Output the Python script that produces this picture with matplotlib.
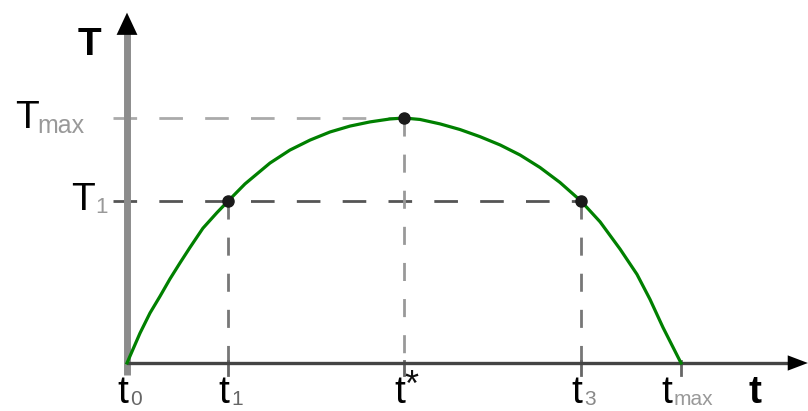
"""
Esboco: curva T(t) com maximo em t*, niveis T1 e Tmax marcados.
Gera out.png (808x411).
"""

import matplotlib
matplotlib.use("Agg")
import matplotlib.pyplot as plt

plt.rcParams["font.family"] = ["Liberation Sans", "DejaVu Sans"]
plt.rcParams["lines.scale_dashes"] = False

# ---------------------------------------------------------------------------
# dados (t* = 1, Tmax = 1)
# ---------------------------------------------------------------------------
curva_t = [0.0, 0.047, 0.083, 0.119, 0.155, 0.191, 0.227, 0.274, 0.325, 0.365,
           0.426, 0.516, 0.588, 0.661, 0.733, 0.805, 0.877, 0.949, 1.0, 1.058,
           1.130, 1.202, 1.274, 1.347, 1.419, 1.491, 1.563, 1.639, 1.708,
           1.780, 1.841, 1.888, 1.935, 2.0]
curva_T = [0.0, 0.122, 0.204, 0.272, 0.343, 0.408, 0.471, 0.550, 0.614, 0.661,
           0.731, 0.816, 0.869, 0.910, 0.943, 0.967, 0.984, 0.996, 1.0, 0.994,
           0.976, 0.953, 0.924, 0.890, 0.849, 0.798, 0.737, 0.661, 0.576,
           0.465, 0.362, 0.260, 0.145, 0.0]

t0, t1, t_estrela, t3, t_max = 0.0, 0.365, 1.0, 1.639, 2.0
T1, T_max = 0.661, 1.0

pontos_t = [t1, t_estrela, t3]
pontos_T = [T1, T_max, T1]

ticks_x = [t0, t1, t_estrela, t3, t_max]
rotulos_x = ["t", "t", "t", "t", "t"]
indices_x = ["0", "1", "*", "3", "max"]
cores_indice_x = ["#666666", "#666666", "#111111", "#888888", "#999999"]

PX = 0.72  # 1 pixel em pontos (dpi 100)

fig = plt.figure(figsize=(8.08, 4.11), dpi=100)
ax = fig.add_axes([0, 0, 1, 1])
ax.set_xlim(-127 / 277, 681 / 277)
ax.set_ylim(-48 / 245, 363 / 245)
ax.axis("off")

# eixos desenhados a mao
ax.plot([0, 0], [-0.05, 1.37], color="#8c8c8c", lw=5, solid_capstyle="butt",
        zorder=2)
ax.annotate("", xy=(0, 1.43), xytext=(0, 1.34),
            arrowprops=dict(arrowstyle="-|>,head_length=1.6,head_width=0.75",
                            color="black", lw=0, shrinkA=0, shrinkB=0))
ax.plot([0, 2.39], [0, 0], color="#444444", lw=2.4, solid_capstyle="butt",
        zorder=2)
ax.annotate("", xy=(2.458, 0), xytext=(2.38, 0),
            arrowprops=dict(arrowstyle="-|>,head_length=1.45,head_width=0.55",
                            color="black", lw=0, shrinkA=0, shrinkB=0))

# linhas tracejadas de referencia
ax.plot([-0.05, t_estrela], [T_max, T_max], color="#aaaaaa", lw=2,
        dashes=[17, 16], zorder=1)
ax.plot([-0.05, t3], [T1, T1], color="#555555", lw=2,
        dashes=[17, 16], zorder=1)
for t, T, cor in zip(pontos_t, pontos_T, ["#777777", "#999999", "#777777"]):
    ax.plot([t, t], [T, 0], color=cor, lw=2, dashes=[13, 13], zorder=1)
for t in ticks_x[1:]:
    ax.plot([t, t], [0.01, -0.05], color="#666666", lw=2, zorder=1)

# curva e pontos
ax.plot(curva_t, curva_T, color="#008000", lw=2.3, zorder=3,
        solid_joinstyle="round")
ax.plot(pontos_t, pontos_T, "o", color="#1a1a1a", ms=8, zorder=4)

# rotulos do eixo y
ax.text(-0.137, 1.257, "T", fontsize=28, fontweight="bold", ha="center",
        va="baseline")
ax.annotate("T", xy=(0, T_max), xytext=(-100 * PX, -10 * PX),
            textcoords="offset points", fontsize=28, ha="center",
            va="baseline")
ax.annotate("max", xy=(0, T_max), xytext=(-90 * PX, -15 * PX),
            textcoords="offset points", fontsize=18, color="#999999",
            ha="left", va="baseline")
ax.annotate("T", xy=(0, T1), xytext=(-44 * PX, -9 * PX),
            textcoords="offset points", fontsize=28, ha="center",
            va="baseline")
ax.annotate("1", xy=(0, T1), xytext=(-32 * PX, -12 * PX),
            textcoords="offset points", fontsize=16, color="#999999",
            ha="left", va="baseline")

# rotulos do eixo x
for t, rot, ind, cor in zip(ticks_x, rotulos_x, indices_x, cores_indice_x):
    desl = -5 * (len(ind) - 1)
    ax.annotate(rot, xy=(t, 0), xytext=((desl + 1) * PX, -40 * PX),
                textcoords="offset points", fontsize=28, ha="right",
                va="baseline")
    if ind == "*":
        ax.annotate(ind, xy=(t, 0), xytext=((desl + 0) * PX, -33 * PX),
                    textcoords="offset points", fontsize=26, color=cor,
                    ha="left", va="baseline")
    else:
        ax.annotate(ind, xy=(t, 0), xytext=((desl + 3) * PX, -42 * PX),
                    textcoords="offset points", fontsize=15, color=cor,
                    ha="left", va="baseline")

ax.text(2.267, -0.165, "t", fontsize=28, fontweight="bold", ha="center",
        va="baseline")

fig.savefig("out.png", dpi=100)
